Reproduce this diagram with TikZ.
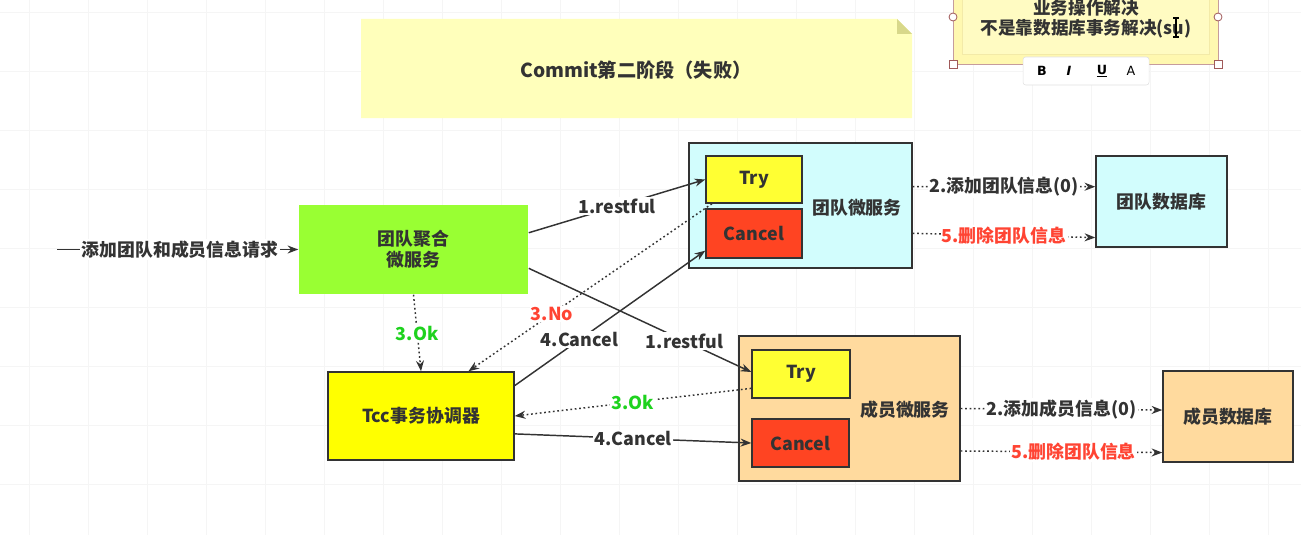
\documentclass[tikz,border=0pt]{standalone}
\usepackage{fontspec}
\setmainfont{Noto Sans CJK SC}
\newfontfamily\tbarfont{DejaVu Sans}
\usetikzlibrary{arrows.meta,calc}
\definecolor{ink}{HTML}{333333}
\definecolor{cgreen}{HTML}{99FF33}
\definecolor{ccyan}{HTML}{D2FDFD}
\definecolor{cyel}{HTML}{FFFF33}
\definecolor{ctcc}{HTML}{FFFF00}
\definecolor{cred}{HTML}{FF4422}
\definecolor{corange}{HTML}{FFDA9E}
\definecolor{cnote}{HTML}{FFFFBB}
\definecolor{cfold}{HTML}{D8D88A}
\definecolor{cnote2}{HTML}{FFF8B0}
\definecolor{cnote3}{HTML}{FFFBC2}
\definecolor{cnoteb}{HTML}{F3EAA8}
\definecolor{lgreen}{HTML}{1ED21E}
\definecolor{lred}{HTML}{FF4433}
\definecolor{cgrid}{HTML}{F5F5F5}
\definecolor{chandle}{HTML}{A05A5A}
\tikzset{
  box/.style={draw=ink, line width=1.1pt, inner sep=0pt},
  arr/.style={draw=ink, line width=1.1pt, -{Stealth[length=8pt,width=6pt]}},
  dotl/.style={arr, dash pattern=on 1.3pt off 2pt},
  lbl/.style={fill=white, inner sep=1pt},
  gridl/.style={draw=cgrid, line width=0.6pt},
  handle/.style={draw=chandle, fill=white, line width=0.6pt},
  tbfont/.style={font=\tbarfont\fontsize{9.5}{10}\selectfont\bfseries, text=black}
}
\begin{document}
\begin{tikzpicture}[x=0.75pt,y=-0.75pt,
  font=\fontsize{13.4}{16}\selectfont\bfseries, text=ink]
\useasboundingbox (0,0) rectangle (1301,535);
\clip (0,0) rectangle (1301,535);
% background grid
\foreach \x in {29,88,...,1300} \draw[gridl] (\x,0) -- (\x,535);
\foreach \y in {12,71,...,535} \draw[gridl] (0,\y) -- (1301,\y);

% title note
\fill[cnote] (361,19) -- (897,19) -- (912,34) -- (912,118) -- (361,118) -- cycle;
\fill[cfold] (897,19) -- (897,34) -- (912,34) -- cycle;
\node[font=\fontsize{14.4}{17}\selectfont\bfseries] (title) at (636,70) {Commit第二阶段（失败）};

% top-right note being edited
\fill[cnote2] (953,-5) rectangle (1218,64);
\draw[draw=chandle!60, line width=0.5pt] (953,-5) rectangle (1218,64);
\draw[fill=cnote3, draw=cnoteb, line width=0.5pt] (962,-5) rectangle (1209,54);
\node[align=center, font=\fontsize{13.2}{15}\selectfont\bfseries] (note) at (1086,19) {业务操作解决\\不是靠数据库事务解决(su)};
\draw[line width=0.8pt] (1176,18) -- (1176,37) (1173,18) -- (1179,18) (1173,37) -- (1179,37);
\draw[handle] (953,17) circle (4);
\draw[handle] (1218,17) circle (4);
\draw[handle] (949,60) rectangle (957,68);
\draw[handle] (1214,60) rectangle (1222,68);
\node[draw=black!12, fill=white, rounded corners=2pt, minimum width=126*0.75pt, minimum height=28*0.75pt] (bar) at (1086,71) {};
\node[tbfont] (bB) at (1042,71) {B};
\node[tbfont, font=\tbarfont\fontsize{9.5}{10}\selectfont\bfseries\itshape] (bI) at (1069,71) {I};
\node[tbfont] (bU) at (1102,71) {\underline{U}};
\node[tbfont, font=\tbarfont\fontsize{9.5}{10}\selectfont] (bA) at (1131,71) {A};

% nodes
\node[box, fill=cgreen, draw=none, minimum width=229*0.75pt, minimum height=89*0.75pt, align=center] (agg) at (413.5,249.5) {团队聚合\\微服务};
\node[box, fill=ccyan, minimum width=223*0.75pt, minimum height=125*0.75pt] (tms) at (800.5,205.5) {};
\node (tmsl) at (857,208) {团队微服务};
\node[box, fill=cyel, minimum width=96*0.75pt, minimum height=47*0.75pt] (try1) at (754,179.5) {Try};
\node[box, fill=cred, minimum width=96*0.75pt, minimum height=49*0.75pt] (can1) at (754,233.5) {Cancel};
\node[box, fill=ccyan, minimum width=131*0.75pt, minimum height=91*0.75pt] (db1) at (1161.5,201.5) {团队数据库};
\node[box, fill=corange, minimum width=221*0.75pt, minimum height=145*0.75pt] (mms) at (849.5,408.5) {};
\node (mmsl) at (905,410) {成员微服务};
\node[box, fill=cyel, minimum width=98*0.75pt, minimum height=48*0.75pt] (try2) at (801,374) {Try};
\node[box, fill=cred, minimum width=97*0.75pt, minimum height=48*0.75pt] (can2) at (800.5,443) {Cancel};
\node[box, fill=corange, minimum width=130*0.75pt, minimum height=91*0.75pt] (db2) at (1228,416.5) {成员数据库};
\node[box, fill=ctcc, minimum width=186*0.75pt, minimum height=88*0.75pt] (tcc) at (421,416) {Tcc事务协调器};

% connectors
\coordinate (inS) at (57,249.5);
\draw[arr] (inS) -- (agg.west) node[lbl, pos=0.51] {添加团队和成员信息请求};
\draw[arr] ($(agg.north east)!0.315!(agg.south east)$) -- (try1.west) node[lbl, midway] {1.restful};
\draw[arr] ($(agg.north east)!0.708!(agg.south east)$) -- ($(try2.north west)!0.46!(try2.south west)$) node[lbl, pos=0.7] {1.restful};
\draw[dotl] (agg.south) -- (tcc.north) node[lbl, midway, text=lgreen] {3.Ok};
\draw[dotl] ([xshift=5pt]try1.south west) -- ($(tcc.north west)!0.753!(tcc.north east)$) node[lbl, pos=0.657, text=lred] {3.No};
\draw[arr] ($(tcc.north east)!0.16!(tcc.south east)$) -- ($(can1.north west)!0.84!(can1.south west)$) node[lbl, pos=0.34] {4.Cancel};
\draw[dotl] ($(try2.north west)!0.79!(try2.south west)$) -- (tcc.east) node[lbl, midway, text=lgreen] {3.Ok};
\draw[arr] ($(tcc.north east)!0.70!(tcc.south east)$) -- (can2.west) node[lbl, midway] {4.Cancel};

\draw[dotl] ($(tms.north east)!0.35!(tms.south east)$) -- ($(db1.north west)!0.34!(db1.south west)$) node[lbl, midway] {2.添加团队信息(0)};
\draw[dotl] ($(tms.north east)!0.72!(tms.south east)$) -- ($(db1.north west)!0.89!(db1.south west)$) node[lbl, midway, text=lred] {5.删除团队信息};
\draw[dotl] (mms.east) -- ($(db2.north west)!0.43!(db2.south west)$) node[lbl, midway] {2.添加成员信息(0)};
\draw[dotl] ($(mms.north east)!0.79!(mms.south east)$) -- ($(db2.north west)!0.89!(db2.south west)$) node[lbl, pos=0.56, text=lred] {5.删除团队信息};
\end{tikzpicture}
\end{document}
